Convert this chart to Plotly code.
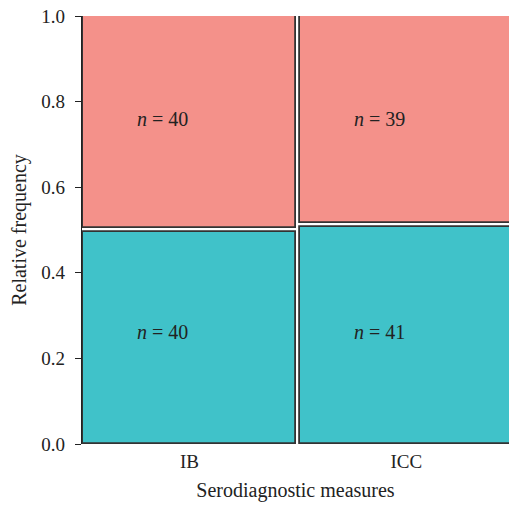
import plotly.graph_objects as go

categories = ["IB", "ICC"]
n_bottom = [40, 41]   # teal (lower) counts
n_top = [40, 39]      # salmon (upper) counts
y_ticks = [0.0, 0.2, 0.4, 0.6, 0.8, 1.0]

totals = [a + b for a, b in zip(n_bottom, n_top)]
frac = [a / t for a, t in zip(n_bottom, totals)]

GAP = 0.0047
WIDTH = 0.979
TEAL = "#40C2C9"
SALMON = "#F4918A"
EDGE = "#333333"
FONT = "Liberation Serif"
FS = 19
FS_TXT = 20
LABEL_Y_BOTTOM = 0.262
LABEL_Y_TOP = 0.759

xs = list(range(len(categories)))

fig = go.Figure()
fig.add_trace(go.Bar(
    x=xs, base=[0] * len(xs), y=[f - GAP for f in frac], width=WIDTH,
    marker=dict(color=TEAL, line=dict(color=EDGE, width=1.8)),
    showlegend=False, hoverinfo="skip", cliponaxis=True,
))
fig.add_trace(go.Bar(
    x=xs, base=[f + GAP for f in frac], y=[1 - f - GAP for f in frac], width=WIDTH,
    marker=dict(color=SALMON, line=dict(color=EDGE, width=1.8)),
    showlegend=False, hoverinfo="skip", cliponaxis=True,
))

for i in xs:
    fig.add_annotation(x=i - 0.125, y=LABEL_Y_BOTTOM, text=f"<i>n</i> = {n_bottom[i]}",
                       showarrow=False, font=dict(family=FONT, size=FS_TXT, color="#222"))
    fig.add_annotation(x=i - 0.125, y=LABEL_Y_TOP, text=f"<i>n</i> = {n_top[i]}",
                       showarrow=False, font=dict(family=FONT, size=FS_TXT, color="#222"))

fig.update_layout(
    width=509, height=505,
    margin=dict(l=82, r=0, t=16, b=61),
    plot_bgcolor="white", paper_bgcolor="white",
    barmode="overlay", bargap=0,
    font=dict(family=FONT, size=FS, color="#222"),
    xaxis=dict(
        range=[-0.495, 1.473], tickmode="array", tickvals=xs, ticktext=categories,
        showline=False, showgrid=False, zeroline=False, ticks="",
        ticklabelstandoff=4,
        title=dict(text="Serodiagnostic measures", font=dict(size=FS_TXT), standoff=11),
        tickfont=dict(size=FS),
    ),
    yaxis=dict(
        range=[0, 1], tickmode="array", tickvals=y_ticks,
        ticktext=[f"{v:.1f}" for v in y_ticks],
        showline=True, linecolor="#222", linewidth=1.3,
        ticks="outside", ticklen=6, tickwidth=1.3, tickcolor="#222",
        ticklabelstandoff=6,
        showgrid=False, zeroline=False,
        title=dict(text="Relative frequency", font=dict(size=FS_TXT), standoff=9),
        tickfont=dict(size=FS),
    ),
)

fig.write_html("out.html")
